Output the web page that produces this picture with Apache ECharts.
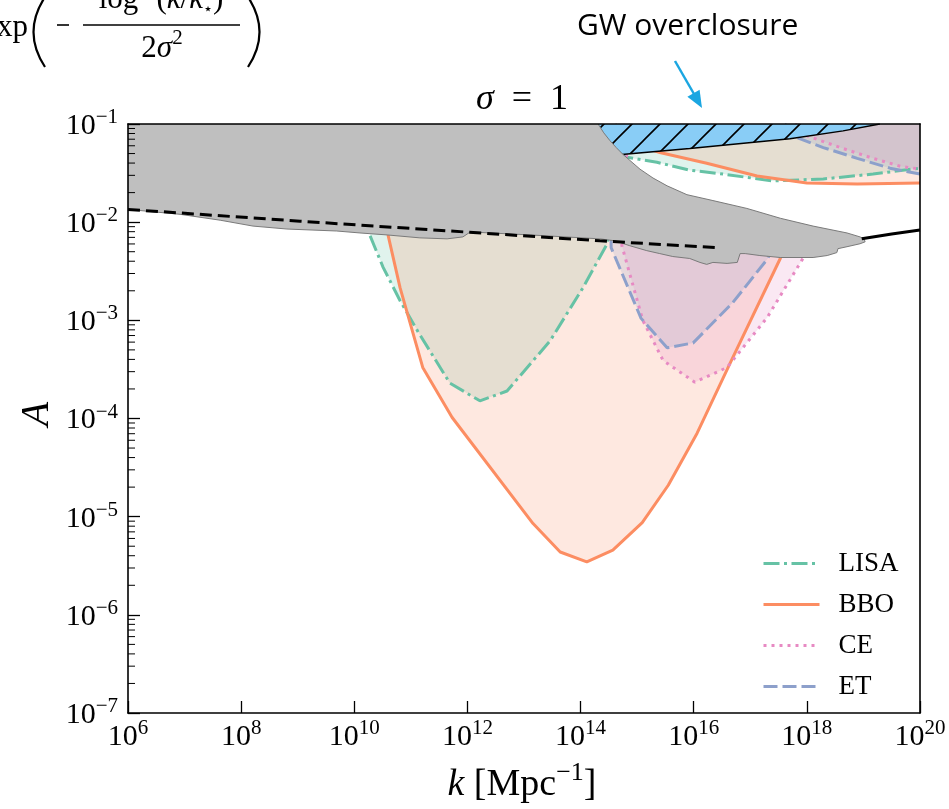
<!DOCTYPE html>
<html>
<head>
<meta charset="utf-8">
<script src="https://cdn.jsdelivr.net/npm/echarts@6/dist/echarts.min.js"></script>
<style>
  html, body { margin: 0; padding: 0; background: #ffffff; }
  #chart { width: 949px; height: 809px; }
</style>
</head>
<body>
<div id="chart"></div>
<script>
// Both axes are drawn in decades: every pair is [log10 k, log10 A].
const xTicks = [6, 8, 10, 12, 14, 16, 18, 20];
const yTicks = [-7, -6, -5, -4, -3, -2, -1];
const X_MIN = 6, X_MAX = 20, Y_MIN = -7, Y_MAX = -1;

// Detector sensitivity curves: the lower bowl and the branch near the top.
const lisaLower = [[10.21,-1.00],[10.26,-1.88],[10.28,-2.14],[10.51,-2.46],[10.81,-2.80],[11.13,-3.12],[11.69,-3.64],[12.22,-3.82],[12.70,-3.72],[13.46,-3.21],[14.04,-2.67],[14.47,-2.22],[14.56,-1.78],[14.61,-1.00]];
const lisaUpper = [[14.66,-1.00],[14.73,-1.33],[15.35,-1.39],[15.93,-1.47],[16.52,-1.51],[17.40,-1.58],[18.29,-1.56],[19.17,-1.51],[20.00,-1.45]];

const bboLower = [[10.54,-1.00],[10.58,-1.88],[10.60,-2.14],[10.81,-2.67],[11.21,-3.48],[11.73,-3.99],[13.16,-5.07],[13.64,-5.36],[14.11,-5.46],[14.57,-5.34],[15.09,-5.06],[15.55,-4.68],[16.06,-4.15],[16.69,-3.38],[17.53,-2.37],[17.67,-2.17],[16.82,-2.01],[15.93,-1.80],[15.23,-1.63],[14.84,-1.46],[14.61,-1.00]];
const bboUpper = [[15.05,-1.00],[15.14,-1.24],[15.40,-1.29],[16.23,-1.40],[17.12,-1.53],[18.00,-1.60],[18.89,-1.61],[20.00,-1.60]];

const ceLower = [[14.70,-1.00],[14.73,-2.24],[15.10,-3.00],[15.46,-3.41],[16.02,-3.63],[16.59,-3.48],[17.30,-2.97],[17.93,-2.37],[18.06,-2.19],[17.53,-2.07],[16.82,-2.01],[15.93,-1.80],[15.23,-1.63],[14.84,-1.46],[14.75,-1.00]];
const ceUpper = [[17.79,-1.00],[18.00,-1.12],[18.59,-1.24],[19.17,-1.35],[19.65,-1.43],[20.00,-1.46]];

const etLower = [[14.52,-1.00],[14.54,-2.26],[15.07,-2.98],[15.53,-3.28],[15.99,-3.23],[16.69,-2.82],[17.31,-2.37],[17.44,-2.19],[16.82,-2.01],[15.93,-1.80],[15.23,-1.63],[14.84,-1.46],[14.61,-1.00]];
const etUpper = [[17.61,-1.00],[17.83,-1.14],[18.29,-1.24],[18.89,-1.35],[19.47,-1.45],[20.00,-1.51]];

// Excluded region (grey), traced clockwise from the top edge.
const excludedEdge = [[14.31,-1.00],[14.41,-1.09],[14.52,-1.17],[14.63,-1.24],[14.75,-1.31],[14.91,-1.39],[15.05,-1.46],[15.28,-1.55],[15.53,-1.63],[15.88,-1.72],[16.34,-1.78],[16.94,-1.86],[17.53,-1.96],[18.11,-2.04],[18.71,-2.11],[18.94,-2.15],[19.01,-2.17],[19.03,-2.20],[18.94,-2.22],[18.71,-2.25],[18.55,-2.27],[18.53,-2.31],[18.36,-2.34],[18.11,-2.36],[17.53,-2.36],[17.17,-2.34],[16.91,-2.32],[16.82,-2.32],[16.77,-2.41],[16.59,-2.42],[16.34,-2.41],[16.23,-2.43],[16.11,-2.41],[15.93,-2.37],[15.63,-2.35],[15.40,-2.32],[15.17,-2.29],[14.87,-2.24],[14.61,-2.19],[14.34,-2.17],[13.11,-2.13],[12.05,-2.10],[11.92,-2.15],[11.64,-2.17],[11.16,-2.16],[10.58,-2.13],[10.10,-2.11],[9.69,-2.09],[8.81,-2.07],[8.21,-2.04],[7.63,-1.98],[6.92,-1.92],[6.00,-1.87]];

// GW overclosure bound and the hidden corner of its hatched patch.
const overclosureEdge = [[14.73,-1.31],[15.93,-1.25],[17.70,-1.15],[18.64,-1.07],[19.29,-1.00]];
const overclosureCorner = [[14.17,-1.00],[14.26,-1.34]];

// Black bounds drawn over the grey region.
const dashedBound = [[6.00,-1.87],[9.04,-1.99],[11.69,-2.09],[14.34,-2.19],[16.41,-2.26]];
const solidBound = [[18.97,-2.17],[19.50,-2.12],[20.00,-2.08]];

const SERIF = "'Liberation Serif','DejaVu Serif',serif";
const COLORS = { LISA: '#66c2a5', BBO: '#fc8d62', CE: '#e78ac3', ET: '#8da0cb' };
const FILLS = {
  LISA: 'rgba(102,194,165,0.2)', BBO: 'rgba(252,141,98,0.2)',
  CE: 'rgba(231,138,195,0.2)', ET: 'rgba(141,160,203,0.2)'
};
const DASHES = { LISA: [16, 4.5, 3, 4.5], BBO: 'solid', CE: [3, 5], ET: [14, 5] };

// Diagonal hatch tile for the overclosure patch.
function hatchPattern() {
  const c = document.createElement('canvas');
  c.width = 28; c.height = 28;
  const g = c.getContext('2d');
  g.fillStyle = '#89cdf6';
  g.fillRect(0, 0, 28, 28);
  g.strokeStyle = '#000';
  g.lineWidth = 1.6;
  g.beginPath();
  g.moveTo(-2, 2); g.lineTo(2, -2);
  g.moveTo(-2, 30); g.lineTo(30, -2);
  g.moveTo(26, 30); g.lineTo(30, 26);
  g.stroke();
  return { image: c, repeat: 'repeat' };
}

function area(points, fill, z, stroke) {
  return {
    type: 'custom', silent: true, z: z,
    data: [points[0]],
    renderItem: function (params, api) {
      return {
        type: 'polygon',
        shape: { points: points.map(function (p) { return api.coord(p); }) },
        style: { fill: fill, stroke: stroke || null, lineWidth: stroke ? 1 : 0 }
      };
    }
  };
}

function curve(name, points, color, type, width, z) {
  return {
    name: name, type: 'line', data: points, symbol: 'none', silent: true, z: z,
    lineStyle: { color: color, width: width, type: type, cap: 'butt' },
    itemStyle: { color: color }
  };
}

const withTop = function (pts) { return pts.concat([[X_MAX, Y_MAX]]); };

const minorTicks = [];
for (let n = Y_MIN; n < Y_MAX; n++) {
  [2, 3, 4, 5, 6, 7, 8, 9].forEach(function (m) { minorTicks.push([X_MIN, n + Math.log10(m)]); });
}

const series = [];
['LISA', 'BBO', 'CE', 'ET'].forEach(function (d) {
  const lower = { LISA: lisaLower, BBO: bboLower, CE: ceLower, ET: etLower }[d];
  const upper = { LISA: lisaUpper, BBO: bboUpper, CE: ceUpper, ET: etUpper }[d];
  series.push(area(lower, FILLS[d], 1));
  series.push(area(withTop(upper), FILLS[d], 1));
});
['LISA', 'BBO', 'CE', 'ET'].forEach(function (d) {
  const lower = { LISA: lisaLower, BBO: bboLower, CE: ceLower, ET: etLower }[d];
  const upper = { LISA: lisaUpper, BBO: bboUpper, CE: ceUpper, ET: etUpper }[d];
  series.push(curve(d, lower, COLORS[d], DASHES[d], 3, 2));
  series.push(curve(d, upper, COLORS[d], DASHES[d], 3, 2));
});
series.push(area(overclosureCorner.concat(overclosureEdge), hatchPattern(), 3));
series.push(curve('overclosure', overclosureEdge, '#000', 'solid', 1.5, 3));
series.push(area([[X_MIN, Y_MAX]].concat(excludedEdge), '#bfbfbf', 4));
series.push(curve('excluded', excludedEdge, '#7a7a7a', 'solid', 1, 4));
series.push(curve('bound', dashedBound, '#000', [12, 6], 3, 5));
series.push(curve('bound2', solidBound, '#000', 'solid', 3, 5));
series.push({
  type: 'custom', silent: true, z: 10, data: minorTicks,
  renderItem: function (params, api) {
    const c = api.coord([api.value(0), api.value(1)]);
    return { type: 'line', shape: { x1: c[0], y1: c[1], x2: c[0] + 7, y2: c[1] },
             style: { stroke: '#000', lineWidth: 1 } };
  }
});

const labelRich = {
  b: { fontFamily: SERIF, fontSize: 30, color: '#000', lineHeight: 34, verticalAlign: 'bottom' },
  s: { fontFamily: SERIF, fontSize: 21, color: '#000', lineHeight: 20, verticalAlign: 'top' }
};
const frameLine = { show: true, onZero: false, lineStyle: { color: '#000', width: 1.6 } };

const option = {
  animation: false,
  backgroundColor: '#ffffff',
  grid: { left: 128, right: 29, top: 124, bottom: 96, containLabel: false },
  xAxis: [
    { type: 'value', min: X_MIN, max: X_MAX, interval: 2, position: 'bottom', z: 10,
      axisLine: frameLine,
      axisTick: { show: true, inside: true, length: 12, lineStyle: { color: '#000', width: 1.3 } },
      splitLine: { show: false },
      axisLabel: { margin: 5, rich: labelRich,
        formatter: function (v) { return '{b|10}{s|' + Math.round(v) + '}'; } } },
    { type: 'value', min: X_MIN, max: X_MAX, position: 'top', z: 10,
      axisLine: frameLine, axisTick: { show: false }, axisLabel: { show: false }, splitLine: { show: false } }
  ],
  yAxis: [
    { type: 'value', min: Y_MIN, max: Y_MAX, interval: 1, position: 'left', z: 10,
      axisLine: frameLine,
      axisTick: { show: true, inside: true, length: 12, lineStyle: { color: '#000', width: 1.3 } },
      splitLine: { show: false },
      axisLabel: { margin: 10, rich: labelRich,
        formatter: function (v) { return '{b|10}{s|\u2212' + Math.round(-v) + '}'; } } },
    { type: 'value', min: Y_MIN, max: Y_MAX, position: 'right', z: 10,
      axisLine: frameLine, axisTick: { show: false }, axisLabel: { show: false }, splitLine: { show: false } }
  ],
  legend: {
    data: ['LISA', 'BBO', 'CE', 'ET'],
    orient: 'vertical', left: 757, top: 545,
    itemWidth: 56, itemHeight: 14, itemGap: 14,
    selectedMode: false,
    itemStyle: { opacity: 0 },
    lineStyle: { width: 3 },
    textStyle: { fontFamily: SERIF, fontSize: 27, color: '#000', lineHeight: 26, padding: [0, 0, 0, 14] }
  },
  graphic: [
    // Tail of the spectrum formula above the panel
    { type: 'text', x: -3, y: 28, style: { text: 'xp', font: '31px ' + SERIF, fill: '#000',
      align: 'left', verticalAlign: 'middle', textAlign: 'left', textVerticalAlign: 'middle' } },
    { type: 'bezierCurve', shape: { x1: 45, y1: -3, x2: 45, y2: 67, cpx1: 22, cpy1: 32 },
      style: { stroke: '#000', lineWidth: 2.2, fill: null } },
    { type: 'line', shape: { x1: 57, y1: 25, x2: 69, y2: 25 }, style: { stroke: '#000', lineWidth: 1.6 } },
    { type: 'line', shape: { x1: 83, y1: 25, x2: 240, y2: 25 }, style: { stroke: '#000', lineWidth: 1.5 } },
    { type: 'text', x: 161, y: 0, style: {
      text: '{r|log}{s|2}{r| (}{i|k}{r|/}{i|k}{t|\u22c6}{r|)}',
      align: 'center', verticalAlign: 'middle', textAlign: 'center', textVerticalAlign: 'middle',
      rich: {
        r: { fontFamily: SERIF, fontSize: 31, lineHeight: 36, verticalAlign: 'middle', fill: '#000' },
        i: { fontFamily: SERIF, fontStyle: 'italic', fontSize: 31, lineHeight: 36, verticalAlign: 'middle', fill: '#000' },
        s: { fontFamily: SERIF, fontSize: 21, lineHeight: 22, verticalAlign: 'top', fill: '#000' },
        t: { fontFamily: "'DejaVu Sans',sans-serif", fontSize: 16, lineHeight: 22, verticalAlign: 'bottom', fill: '#000' }
      } } },
    { type: 'text', x: 162, y: 46, style: {
      text: '{r|2}{i|\u03c3}{s|2}',
      align: 'center', verticalAlign: 'middle', textAlign: 'center', textVerticalAlign: 'middle',
      rich: {
        r: { fontFamily: SERIF, fontSize: 31, lineHeight: 36, verticalAlign: 'bottom', fill: '#000' },
        i: { fontFamily: SERIF, fontStyle: 'italic', fontSize: 31, lineHeight: 36, verticalAlign: 'bottom', fill: '#000' },
        s: { fontFamily: SERIF, fontSize: 21, lineHeight: 24, verticalAlign: 'top', fill: '#000' }
      } } },
    { type: 'bezierCurve', shape: { x1: 248, y1: -3, x2: 248, y2: 67, cpx1: 271, cpy1: 32 },
      style: { stroke: '#000', lineWidth: 2.2, fill: null } },

    // Annotation for the overclosure bound
    { type: 'text', x: 577, y: 26, style: { text: 'GW overclosure', font: "30px 'Open Sans', sans-serif",
      fill: '#000', align: 'left', verticalAlign: 'middle', textAlign: 'left', textVerticalAlign: 'middle' } },
    { type: 'line', shape: { x1: 675, y1: 61, x2: 694, y2: 94 }, style: { stroke: '#1ba6e1', lineWidth: 2.5 } },
    { type: 'polygon', shape: { points: [[702, 108], [687.4, 96.8], [699.6, 89.8]] }, style: { fill: '#1ba6e1' } },

    // Panel title
    { type: 'text', x: 522, y: 100, style: {
      text: '{i|\u03c3}{r|\u2002=\u20021}',
      align: 'center', verticalAlign: 'middle', textAlign: 'center', textVerticalAlign: 'middle',
      rich: {
        i: { fontFamily: SERIF, fontStyle: 'italic', fontSize: 36, fill: '#000' },
        r: { fontFamily: SERIF, fontSize: 36, fill: '#000' }
      } } },

    // Axis titles
    { type: 'text', x: 37, y: 414, rotation: Math.PI / 2, style: {
      text: 'A', font: 'italic 40px ' + SERIF, fill: '#000',
      align: 'center', verticalAlign: 'middle', textAlign: 'center', textVerticalAlign: 'middle' } },
    { type: 'text', x: 522, y: 782, style: {
      text: '{i|k}{r| [Mpc}{s|\u22121}{r|]}',
      align: 'center', verticalAlign: 'middle', textAlign: 'center', textVerticalAlign: 'middle',
      rich: {
        i: { fontFamily: SERIF, fontStyle: 'italic', fontSize: 38, lineHeight: 44, verticalAlign: 'bottom', fill: '#000' },
        r: { fontFamily: SERIF, fontSize: 38, lineHeight: 44, verticalAlign: 'bottom', fill: '#000' },
        s: { fontFamily: SERIF, fontSize: 26, lineHeight: 28, verticalAlign: 'top', fill: '#000' }
      } } }
  ],
  series: series
};

const chart = echarts.init(document.getElementById('chart'), null, { renderer: 'canvas' });
chart.setOption(option);
</script>
</body>
</html>
